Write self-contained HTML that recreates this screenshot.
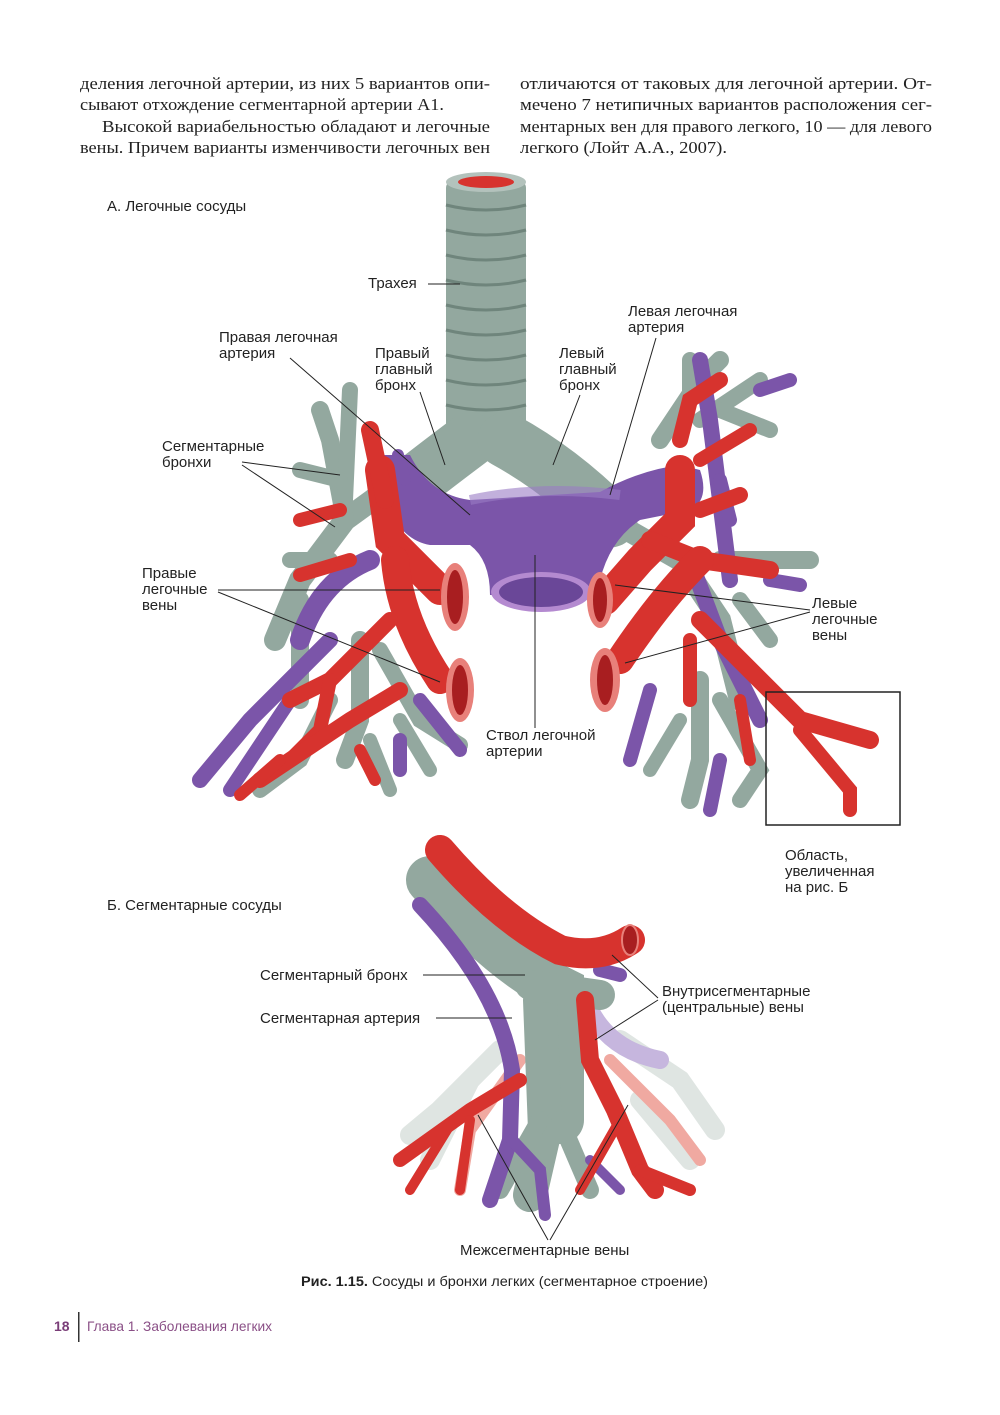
<!DOCTYPE html>
<html><head><meta charset="utf-8"><style>
html,body{margin:0;padding:0;background:#fff;}
svg{display:block}
.s{font-family:"Liberation Serif",serif;font-size:16.5px;fill:#222}
.l{font-family:"Liberation Sans",sans-serif;font-size:15px;fill:#222}
.ln{stroke:#222;stroke-width:1;fill:none}
.R{stroke:#d7332e;fill:none;stroke-linecap:round}
.P{stroke:#7b55a9;fill:none;stroke-linecap:round}
.G{stroke:#93a89f;fill:none;stroke-linecap:round}
.Rl{stroke:#f0a9a1;fill:none;stroke-linecap:round}
.Pl{stroke:#c6b6de;fill:none;stroke-linecap:round}
.Gl{stroke:#dfe5e2;fill:none;stroke-linecap:round}
</style></head><body>
<svg width="1000" height="1415" viewBox="0 0 1000 1415" xmlns="http://www.w3.org/2000/svg">
<text class="s" x="80" y="89" textLength="410" lengthAdjust="spacingAndGlyphs">деления легочной артерии, из них 5 вариантов опи-</text>
<text class="s" x="80" y="110" textLength="364" lengthAdjust="spacingAndGlyphs">сывают отхождение сегментарной артерии А1.</text>
<text class="s" x="102" y="132" textLength="388" lengthAdjust="spacingAndGlyphs">Высокой вариабельностью обладают и легочные</text>
<text class="s" x="80" y="153" textLength="410" lengthAdjust="spacingAndGlyphs">вены. Причем варианты изменчивости легочных вен</text>
<text class="s" x="520" y="89" textLength="412" lengthAdjust="spacingAndGlyphs">отличаются от таковых для легочной артерии. От-</text>
<text class="s" x="520" y="110" textLength="412" lengthAdjust="spacingAndGlyphs">мечено 7 нетипичных вариантов расположения сег-</text>
<text class="s" x="520" y="132" textLength="412" lengthAdjust="spacingAndGlyphs">ментарных вен для правого легкого, 10 — для левого</text>
<text class="s" x="520" y="153" textLength="207" lengthAdjust="spacingAndGlyphs">легкого (Лойт А.А., 2007).</text>

<!-- trachea -->
<rect x="446" y="180" width="80" height="280" rx="8" fill="#93a89f"/>
<g stroke="#6f857c" stroke-width="3" fill="none">
<path d="M446 205 Q486 215 526 205"/><path d="M446 230 Q486 240 526 230"/><path d="M446 255 Q486 265 526 255"/>
<path d="M446 280 Q486 290 526 280"/><path d="M446 305 Q486 315 526 305"/><path d="M446 330 Q486 340 526 330"/>
<path d="M446 355 Q486 365 526 355"/><path d="M446 380 Q486 390 526 380"/><path d="M446 405 Q486 415 526 405"/>
</g>
<ellipse cx="486" cy="182" rx="40" ry="10" fill="#b3c2bc"/>
<ellipse cx="486" cy="182" rx="28" ry="6" fill="#d7332e"/>
<path class="G" stroke-width="55" d="M470 440 Q430 470 405 490"/>
<path class="G" stroke-width="55" d="M505 440 Q560 470 610 520"/>
<g class="G">
<path stroke-width="22" d="M400 480 L345 520 L300 580 L275 640"/>
<path stroke-width="18" d="M345 520 L330 440 L320 410"/>
<path stroke-width="16" d="M345 500 L350 390"/>
<path stroke-width="16" d="M340 480 L300 470"/>
<path stroke-width="16" d="M330 560 L290 560"/>
<path stroke-width="18" d="M300 600 L300 660 L300 700"/>
<path stroke-width="18" d="M360 640 L360 720 L345 760"/>
<path stroke-width="16" d="M380 650 L420 720 L460 745"/>
<path stroke-width="16" d="M330 700 L300 760 L260 790"/>
<path stroke-width="14" d="M370 740 L390 790"/>
<path stroke-width="14" d="M400 720 L430 770"/>
</g>
<g class="G">
<path stroke-width="22" d="M610 520 L680 560 L720 620 L740 700"/>
<path stroke-width="18" d="M660 440 L700 380 L720 360"/>
<path stroke-width="16" d="M700 420 L760 380"/>
<path stroke-width="16" d="M690 400 L690 360"/>
<path stroke-width="16" d="M720 410 L770 430"/>
<path stroke-width="18" d="M720 560 L810 560"/>
<path stroke-width="16" d="M740 600 L770 640"/>
<path stroke-width="18" d="M700 680 L700 760 L690 800"/>
<path stroke-width="16" d="M720 700 L760 770 L740 800"/>
<path stroke-width="14" d="M680 720 L650 770"/>
</g>
<g class="P">
<path stroke-width="20" d="M370 560 Q320 580 300 640"/>
<path stroke-width="16" d="M330 640 L250 720 L200 780"/>
<path stroke-width="14" d="M290 700 L230 790"/>
<path stroke-width="14" d="M400 740 L400 770"/>
<path stroke-width="14" d="M420 700 L460 750"/>
<path stroke-width="16" d="M700 360 L710 420 L720 500 L730 580"/>
<path stroke-width="14" d="M720 480 L730 520"/>
<path stroke-width="16" d="M690 560 L720 640 L760 720"/>
<path stroke-width="14" d="M650 690 L630 760"/>
<path stroke-width="14" d="M720 760 L710 810"/>
<path stroke-width="14" d="M760 390 L790 380"/>
<path stroke-width="14" d="M770 580 L800 585"/>
</g>
<path d="M375 455 L410 455 Q430 495 470 500 L600 492 Q640 470 680 465 L700 470 Q710 500 690 510 L640 520 Q610 540 600 580 L590 595 L490 595 Q490 560 470 545 L430 545 Q400 540 385 500 Z" fill="#7b55a9"/>
<path d="M470 500 Q540 485 620 495" stroke="#9a7cc4" stroke-width="10" fill="none" opacity=".6"/>
<ellipse cx="541" cy="592" rx="50" ry="20" fill="#b48ad0"/>
<ellipse cx="541" cy="592" rx="42" ry="15" fill="#6a4798"/>
<path class="P" stroke-width="14" d="M375 455 L380 500"/>
<path class="P" stroke-width="12" d="M398 455 L405 480"/>
<g class="R">
<path stroke-width="30" d="M380 470 L390 540 L440 590"/>
<path stroke-width="18" d="M370 430 L385 500"/>
<path stroke-width="14" d="M340 510 L300 520"/>
<path stroke-width="14" d="M350 560 L300 575"/>
<path stroke-width="28" d="M395 560 Q400 620 440 680"/>
<path stroke-width="16" d="M390 620 L330 680 L290 700"/>
<path stroke-width="14" d="M330 680 L320 730 L290 760"/>
<path stroke-width="16" d="M400 690 L350 720 L260 780"/>
<path stroke-width="12" d="M280 760 L240 795"/>
<path stroke-width="12" d="M360 750 L375 780"/>
</g>
<ellipse cx="455" cy="597" rx="14" ry="34" fill="#e8807a"/>
<ellipse cx="455" cy="597" rx="8" ry="27" fill="#a81e20"/>
<ellipse cx="460" cy="690" rx="14" ry="32" fill="#e8807a"/>
<ellipse cx="460" cy="690" rx="8" ry="25" fill="#a81e20"/>
<g class="R">
<path stroke-width="30" d="M680 470 L680 520 L640 560 L605 600"/>
<path stroke-width="16" d="M680 440 L690 400 L720 380"/>
<path stroke-width="14" d="M700 460 L750 430"/>
<path stroke-width="16" d="M700 510 L740 495"/>
<path stroke-width="18" d="M650 540 L700 560 L770 570"/>
<path stroke-width="28" d="M700 560 Q660 600 620 660"/>
<path stroke-width="18" d="M700 620 L760 680 L800 720 L870 740"/>
<path stroke-width="14" d="M800 730 L850 790 L850 810"/>
<path stroke-width="14" d="M690 640 L690 700"/>
<path stroke-width="12" d="M740 700 L750 760"/>
</g>
<ellipse cx="600" cy="600" rx="13" ry="28" fill="#e8807a"/>
<ellipse cx="600" cy="600" rx="7" ry="22" fill="#a81e20"/>
<ellipse cx="605" cy="680" rx="15" ry="32" fill="#e8807a"/>
<ellipse cx="605" cy="680" rx="8" ry="25" fill="#a81e20"/>
<rect x="766" y="692" width="134" height="133" fill="none" stroke="#222" stroke-width="1.5"/>

<text class="l" x="107" y="211">А. Легочные сосуды</text>
<text class="l" x="368" y="288">Трахея</text>
<path class="ln" d="M428 284 L460 284"/>
<text class="l" x="219" y="342">Правая легочная</text><text class="l" x="219" y="358">артерия</text>
<path class="ln" d="M290 358 L470 515"/>
<text class="l" x="375" y="358">Правый</text><text class="l" x="375" y="374">главный</text><text class="l" x="375" y="390">бронх</text>
<path class="ln" d="M420 392 L445 465"/>
<text class="l" x="559" y="358">Левый</text><text class="l" x="559" y="374">главный</text><text class="l" x="559" y="390">бронх</text>
<path class="ln" d="M580 395 L553 465"/>
<text class="l" x="628" y="316">Левая легочная</text><text class="l" x="628" y="332">артерия</text>
<path class="ln" d="M656 338 L610 495"/>
<text class="l" x="162" y="451">Сегментарные</text><text class="l" x="162" y="467">бронхи</text>
<path class="ln" d="M242 462 L340 475 M242 465 L335 527"/>
<text class="l" x="142" y="578">Правые</text><text class="l" x="142" y="594">легочные</text><text class="l" x="142" y="610">вены</text>
<path class="ln" d="M218 590 L440 590 M218 592 L440 682"/>
<text class="l" x="486" y="740">Ствол легочной</text><text class="l" x="486" y="756">артерии</text>
<path class="ln" d="M535 555 L535 728"/>
<text class="l" x="812" y="608">Левые</text><text class="l" x="812" y="624">легочные</text><text class="l" x="812" y="640">вены</text>
<path class="ln" d="M810 610 L615 585 M810 612 L625 663"/>
<text class="l" x="785" y="860">Область,</text><text class="l" x="785" y="876">увеличенная</text><text class="l" x="785" y="892">на рис. Б</text>

<text class="l" x="107" y="910">Б. Сегментарные сосуды</text>
<g class="Gl" stroke-width="20">
<path d="M500 1050 L440 1110 L410 1135"/><path d="M620 1040 L680 1080 L715 1130"/>
<path d="M470 1080 L430 1160"/><path d="M640 1100 L690 1160"/>
</g>
<g class="Rl" stroke-width="12"><path d="M520 1060 L470 1130 L460 1190"/><path d="M610 1060 L670 1120 L700 1160"/></g>
<g class="Pl" stroke-width="18"><path d="M590 1010 Q610 1050 660 1060"/></g>
<path class="G" stroke-width="48" d="M430 880 Q500 960 560 990 Q560 1060 560 1120"/>
<path class="G" stroke-width="34" d="M540 1000 L545 1130 L530 1195"/>
<path class="G" stroke-width="18" d="M540 1120 L500 1190"/>
<path class="G" stroke-width="18" d="M560 1120 L590 1190"/>
<path class="G" stroke-width="30" d="M530 985 L600 995"/>
<path class="P" stroke-width="16" d="M420 905 Q500 990 512 1070 L510 1140 L490 1200"/>
<path class="P" stroke-width="12" d="M512 1140 L540 1170 L545 1215"/>
<path class="P" stroke-width="10" d="M590 1160 L620 1190"/>
<path class="P" stroke-width="14" d="M600 970 L620 975"/>
<path class="R" stroke-width="30" d="M440 850 Q500 920 560 950 Q600 960 630 940"/>
<ellipse cx="630" cy="940" rx="8" ry="15" fill="#a81e20" stroke="#e8807a" stroke-width="2"/>
<path class="R" stroke-width="18" d="M585 1000 L590 1060 L615 1110 L640 1170 L655 1190"/>
<path class="R" stroke-width="10" d="M620 1120 L580 1190"/>
<path class="R" stroke-width="12" d="M640 1170 L690 1190"/>
<path class="R" stroke-width="14" d="M520 1080 L470 1110 L400 1160"/>
<path class="R" stroke-width="10" d="M450 1125 L410 1190"/>
<path class="R" stroke-width="10" d="M470 1120 L460 1190"/>
<text class="l" x="260" y="980">Сегментарный бронх</text>
<path class="ln" d="M423 975 L525 975"/>
<text class="l" x="260" y="1023">Сегментарная артерия</text>
<path class="ln" d="M436 1018 L512 1018"/>
<text class="l" x="662" y="996">Внутрисегментарные</text><text class="l" x="662" y="1012">(центральные) вены</text>
<path class="ln" d="M658 998 L612 955 M658 1000 L595 1040"/>
<text class="l" x="460" y="1255">Межсегментарные вены</text>
<path class="ln" d="M548 1240 L478 1115 M550 1240 L628 1105"/>

<text x="301" y="1286" textLength="407" lengthAdjust="spacingAndGlyphs" style="font-family:'Liberation Sans',sans-serif;font-size:13.5px;fill:#222"><tspan font-weight="bold">Рис. 1.15.</tspan> Сосуды и бронхи легких (сегментарное строение)</text>
<text x="54" y="1331" style="font-family:'Liberation Sans',sans-serif;font-size:14px;font-weight:bold;fill:#7a3d78">18</text>
<rect x="78" y="1312" width="1.5" height="30" fill="#333"/>
<text x="87" y="1331" textLength="185" lengthAdjust="spacingAndGlyphs" style="font-family:'Liberation Sans',sans-serif;font-size:14px;fill:#8a4f86">Глава 1. Заболевания легких</text>
</svg>
</body></html>
